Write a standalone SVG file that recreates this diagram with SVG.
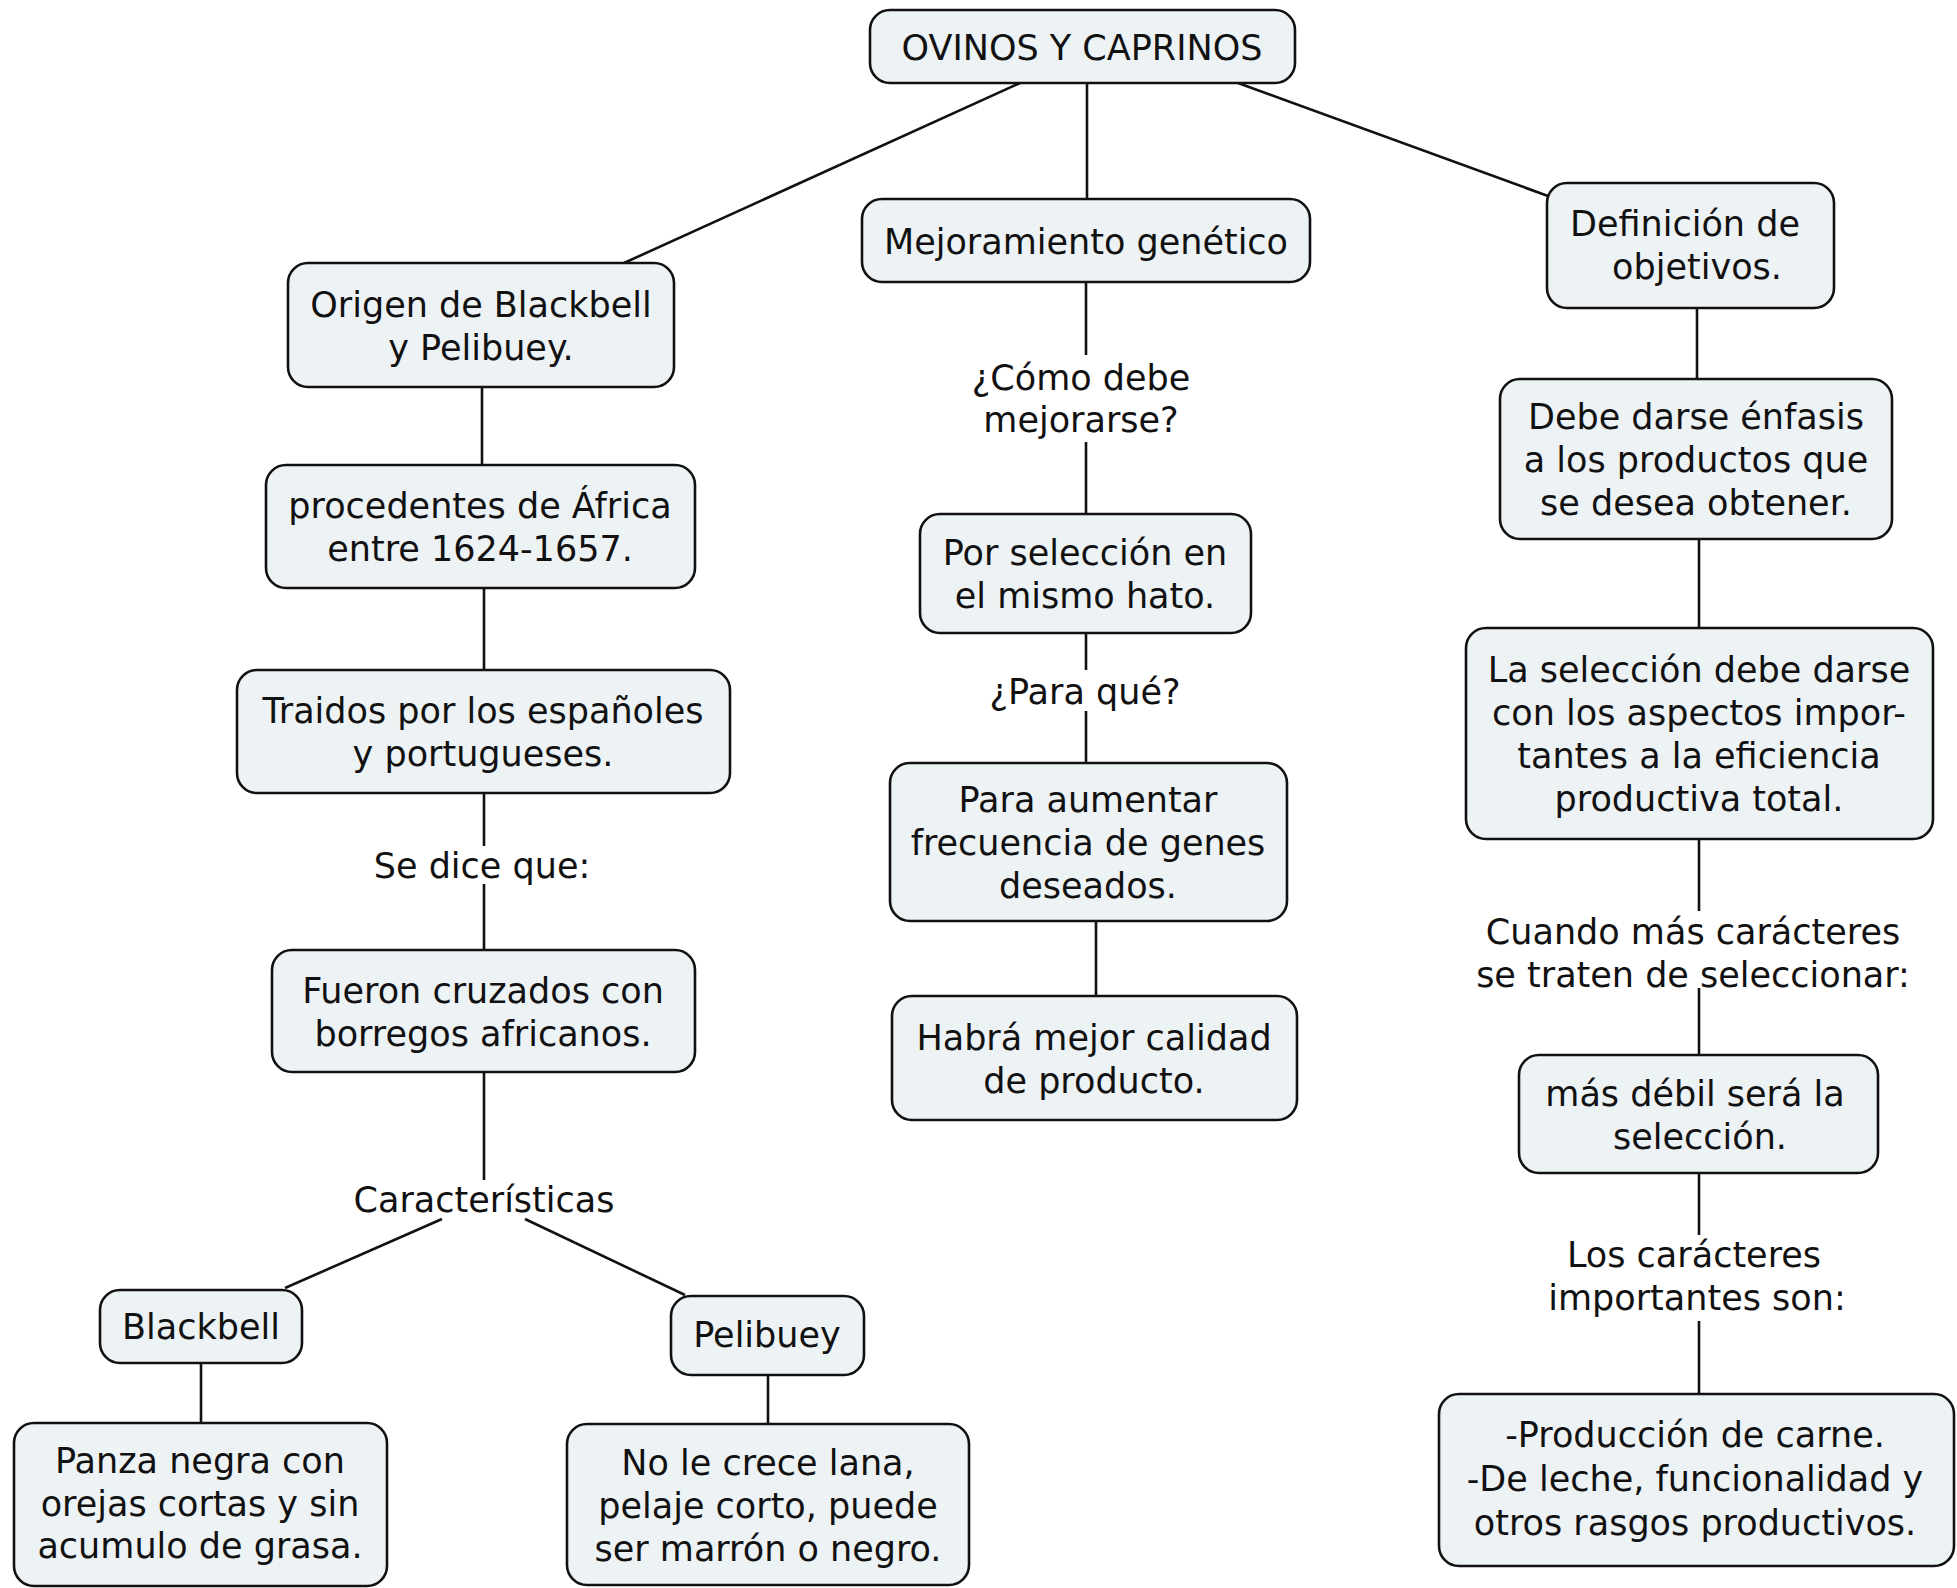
<svg xmlns="http://www.w3.org/2000/svg" width="1957" height="1588" viewBox="0 0 1957 1588">
<style>
.n rect{fill:#edf2f5;stroke:#111;stroke-width:2.6}
text{font-family:"DejaVu Sans","Verdana",sans-serif;font-size:35px;fill:#111;text-anchor:middle}
.c line{stroke:#111;stroke-width:2.6}
</style>
<rect width="1957" height="1588" fill="#fff"/>
<g class="c" id="connectors">
<line x1="1020" y1="83" x2="624" y2="263"/>
<line x1="1087" y1="83" x2="1087" y2="199"/>
<line x1="1238" y1="83" x2="1548" y2="196"/>
<line x1="482" y1="387" x2="482" y2="465"/>
<line x1="484" y1="588" x2="484" y2="670"/>
<line x1="484" y1="793" x2="484" y2="846"/>
<line x1="484" y1="884" x2="484" y2="950"/>
<line x1="484" y1="1072" x2="484" y2="1180"/>
<line x1="442" y1="1219" x2="285" y2="1288"/>
<line x1="525" y1="1219" x2="685" y2="1295"/>
<line x1="201" y1="1363" x2="201" y2="1423"/>
<line x1="768" y1="1375" x2="768" y2="1424"/>
<line x1="1086" y1="282" x2="1086" y2="355"/>
<line x1="1086" y1="442" x2="1086" y2="514"/>
<line x1="1086" y1="633" x2="1086" y2="670"/>
<line x1="1086" y1="711" x2="1086" y2="763"/>
<line x1="1096" y1="921" x2="1096" y2="996"/>
<line x1="1697" y1="308" x2="1697" y2="379"/>
<line x1="1699" y1="539" x2="1699" y2="628"/>
<line x1="1699" y1="839" x2="1699" y2="911"/>
<line x1="1699" y1="988" x2="1699" y2="1055"/>
<line x1="1699" y1="1173" x2="1699" y2="1235"/>
<line x1="1699" y1="1321" x2="1699" y2="1394"/>
</g>
<g class="n" id="n-ovinos"><rect x="870" y="10" width="425" height="73" rx="20"/><text x="1082" y="59.5">OVINOS Y CAPRINOS</text></g>
<g class="n" id="n-mejoramiento"><rect x="862" y="199" width="448" height="83" rx="20"/><text x="1086" y="253.5">Mejoramiento genético</text></g>
<g class="n" id="n-origen"><rect x="288" y="263" width="386" height="124" rx="20"/><text x="481" y="316.5">Origen de Blackbell</text><text x="481" y="359.5">y Pelibuey.</text></g>
<g class="n" id="n-procedentes"><rect x="266" y="465" width="429" height="123" rx="20"/><text x="480" y="518">procedentes de África</text><text x="480" y="561">entre 1624-1657.</text></g>
<g class="n" id="n-traidos"><rect x="237" y="670" width="493" height="123" rx="20"/><text x="483" y="723">Traidos por los españoles</text><text x="483" y="766">y portugueses.</text></g>
<g id="l-sedice"><text x="482" y="878">Se dice que:</text></g>
<g class="n" id="n-fueron"><rect x="272" y="950" width="423" height="122" rx="20"/><text x="483" y="1002.5">Fueron cruzados con</text><text x="483" y="1045.5">borregos africanos.</text></g>
<g id="l-caracteristicas"><text x="484" y="1212">Características</text></g>
<g class="n" id="n-blackbell"><rect x="100" y="1290" width="202" height="73" rx="20"/><text x="201" y="1339">Blackbell</text></g>
<g class="n" id="n-panza"><rect x="14" y="1423" width="373" height="163" rx="20"/><text x="200" y="1473">Panza negra con</text><text x="200" y="1515.5">orejas cortas y sin</text><text x="200" y="1558">acumulo de grasa.</text></g>
<g class="n" id="n-pelibuey"><rect x="671" y="1296" width="193" height="79" rx="20"/><text x="767" y="1347">Pelibuey</text></g>
<g class="n" id="n-nolecrece"><rect x="567" y="1424" width="402" height="161" rx="20"/><text x="768" y="1474.5">No le crece lana,</text><text x="768" y="1517.5">pelaje corto, puede</text><text x="768" y="1560.5">ser marrón o negro.</text></g>
<g id="l-como"><text x="1081" y="390">¿Cómo debe</text><text x="1081" y="432">mejorarse?</text></g>
<g class="n" id="n-porseleccion"><rect x="920" y="514" width="331" height="119" rx="20"/><text x="1085" y="565">Por selección en</text><text x="1085" y="608">el mismo hato.</text></g>
<g id="l-paraque"><text x="1085" y="704">¿Para qué?</text></g>
<g class="n" id="n-paraaumentar"><rect x="890" y="763" width="397" height="158" rx="20"/><text x="1088" y="812">Para aumentar</text><text x="1088" y="855">frecuencia de genes</text><text x="1088" y="898">deseados.</text></g>
<g class="n" id="n-habra"><rect x="892" y="996" width="405" height="124" rx="20"/><text x="1094" y="1049.5">Habrá mejor calidad</text><text x="1094" y="1092.5">de producto.</text></g>
<g class="n" id="n-definicion"><rect x="1547" y="183" width="287" height="125" rx="20"/><text x="1685" y="236">Definición de</text><text x="1697" y="279">objetivos.</text></g>
<g class="n" id="n-debe"><rect x="1500" y="379" width="392" height="160" rx="20"/><text x="1696" y="429">Debe darse énfasis</text><text x="1696" y="472">a los productos que</text><text x="1696" y="515">se desea obtener.</text></g>
<g class="n" id="n-laseleccion"><rect x="1466" y="628" width="467" height="211" rx="20"/><text x="1699" y="682">La selección debe darse</text><text x="1699" y="725">con los aspectos impor-</text><text x="1699" y="768">tantes a la eficiencia</text><text x="1699" y="811">productiva total.</text></g>
<g id="l-cuando"><text x="1693" y="944">Cuando más carácteres</text><text x="1693" y="987">se traten de seleccionar:</text></g>
<g class="n" id="n-masdebil"><rect x="1519" y="1055" width="359" height="118" rx="20"/><text x="1695" y="1106">más débil será la</text><text x="1700" y="1149">selección.</text></g>
<g id="l-los"><text x="1694" y="1267">Los carácteres</text><text x="1697" y="1310">importantes son:</text></g>
<g class="n" id="n-produccion"><rect x="1439" y="1394" width="515" height="172" rx="20"/><text x="1695" y="1447">-Producción de carne.</text><text x="1695" y="1491">-De leche, funcionalidad y</text><text x="1695" y="1535">otros rasgos productivos.</text></g>
</svg>
